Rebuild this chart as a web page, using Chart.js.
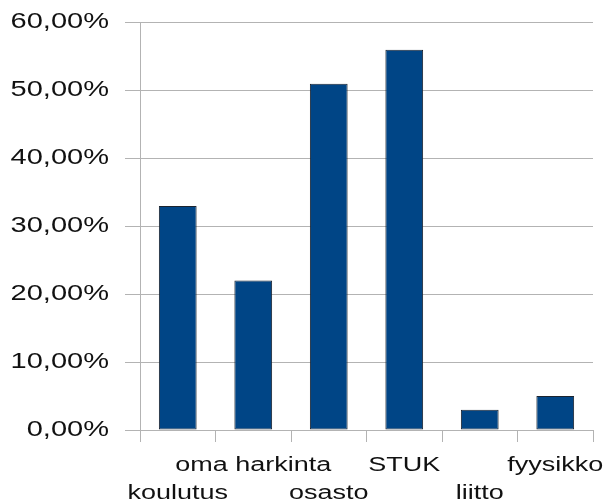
<!DOCTYPE html>
<html>
<head>
<meta charset="utf-8">
<script src="https://cdn.jsdelivr.net/npm/chart.js@4.4.1/dist/chart.umd.min.js"></script>
<style>
  html, body { margin: 0; padding: 0; background: #fff; }
  canvas { display: block; }
</style>
</head>
<body>
<canvas id="survey" width="612" height="503"></canvas>
<script>
const categories = ['koulutus', 'oma harkinta', 'osasto', 'STUK', 'liitto', 'fyysikko'];
const shares = [33, 22, 51, 56, 3, 5];
const yTicks = [0, 10, 20, 30, 40, 50, 60];

const gridGray = '#b3b3b3';

// labels alternate between two rows so the long ones don't collide
const staggered = categories.map((c, i) => (i % 2 === 0 ? ['', c] : [c, '']));

const canvas = document.querySelector('#survey');
const ctx = canvas.getContext('2d');

// the old office export draws its text horizontally widened
const stretch = 1.35;
const plainFill = ctx.fillText.bind(ctx);
ctx.fillText = (text, x, y) => {
    ctx.save();
    ctx.translate(x, y);
    ctx.scale(stretch, 1);
    plainFill(text, 0, 0);
    ctx.restore();
};

new Chart(ctx, {
    type: 'bar',
    data: {
        labels: staggered,
        datasets: [{
            data: shares,
            backgroundColor: '#004586',
            borderColor: '#1b2430',
            borderWidth: 1,
            borderSkipped: false,
            barPercentage: 0.5,
            categoryPercentage: 1
        }]
    },
    options: {
        responsive: false,
        animation: false,
        layout: { padding: { top: 22.5, right: 19, left: 0, bottom: 0 } },
        plugins: {
            legend: { display: false },
            tooltip: { enabled: false }
        },
        scales: {
            x: {
                offset: true,
                grid: {
                    offset: true,
                    drawOnChartArea: true,
                    color: c => (c.index === 0 || c.index === categories.length) ? gridGray : 'rgba(0,0,0,0)',
                    tickColor: gridGray,
                    tickLength: 12,
                    lineWidth: 1
                },
                border: { display: false },
                ticks: {
                    autoSkip: false,
                    maxRotation: 0,
                    minRotation: 0,
                    padding: 9,
                    color: '#111',
                    font: { family: 'Liberation Sans, Arial, sans-serif', size: 20, lineHeight: 1.4 }
                },
                afterFit: s => {
                    s.height = 73;
                    s.paddingLeft = 0;
                    s.paddingRight = 0;
                }
            },
            y: {
                min: 0,
                max: 60,
                afterBuildTicks: s => { s.ticks = yTicks.map(v => ({ value: v })); },
                grid: {
                    color: gridGray,
                    tickColor: gridGray,
                    tickLength: 15,
                    lineWidth: 1
                },
                border: { display: true, color: gridGray },
                ticks: {
                    padding: 16,
                    color: '#111',
                    font: { family: 'Liberation Sans, Arial, sans-serif', size: 21.5 },
                    callback: v => v.toFixed(2).replace('.', ',') + '%'
                },
                afterFit: s => {
                    s.width = 140;
                    s.paddingTop = 0;
                    s.paddingBottom = 0;
                }
            }
        }
    }
});
</script>
</body>
</html>
